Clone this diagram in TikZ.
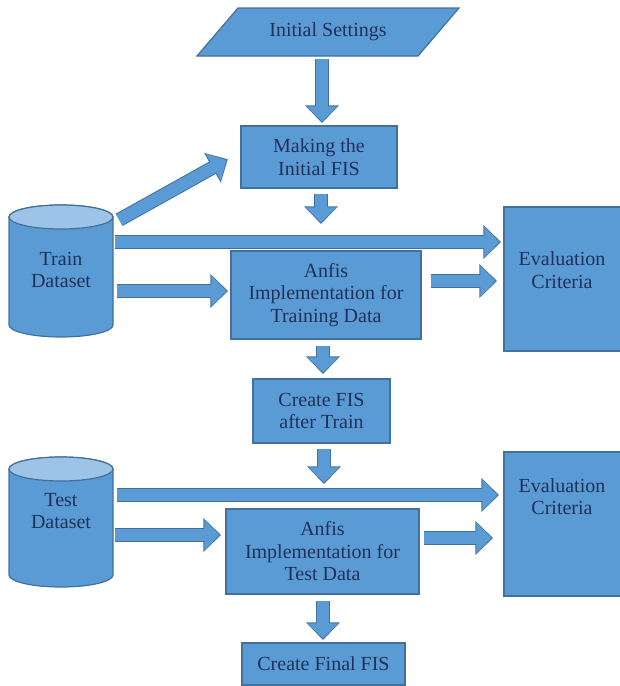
\documentclass[tikz,border=0pt]{standalone}
\usepackage{fontspec}
\setmainfont{Liberation Serif}
\usetikzlibrary{arrows.meta,calc}
\definecolor{bfill}{HTML}{5B9BD5}
\definecolor{bline}{HTML}{41719C}
\definecolor{ctop}{HTML}{9DC3E6}
\definecolor{tcol}{HTML}{1F3158}
\begin{document}
\begin{tikzpicture}[x=1pt,y=-1pt,
  txt/.style={text=tcol, align=center, inner sep=0pt, font=\fontsize{20}{22.5}\selectfont},
  box/.style={txt, draw=bline, fill=bfill, line width=1.2pt},
  shapefill/.style={draw=bline, fill=bfill, line width=1.2pt},
  toplid/.style={draw=bline, fill=ctop, line width=1.2pt},
  fat/.style={draw=bfill, line width=12pt, -{Triangle[length=15pt,width=30pt]},
    preaction={draw=bline, line width=14pt, -{Triangle[length=17.6pt,width=33pt]}, shorten >=-1.6pt}}
]
\useasboundingbox (0,0) rectangle (620,686);

% Initial settings (parallelogram)
\filldraw[shapefill] (238,8) -- (459,8) -- (418,56) -- (197,56) -- cycle;
\node[txt, minimum width=180pt, minimum height=48pt] (settings) at (328,32) {Initial Settings};

% process boxes
\node[box, minimum width=156pt, minimum height=62pt] (making) at (319,157) {Making the\\Initial FIS};
\node[box, minimum width=190pt, minimum height=88pt] (anfistr) at (326,295) {Anfis\\Implementation for\\Training Data};
\node[box, minimum width=137pt, minimum height=64pt] (createtr) at (321.5,411) {Create FIS\\after Train};
\node[box, minimum width=193pt, minimum height=85pt] (anfiste) at (322.5,551.5) {Anfis\\Implementation for\\Test Data};
\node[box, minimum width=163pt, minimum height=42pt] (final) at (323.5,664) {Create Final FIS};

% evaluation boxes
\node[shapefill, minimum width=118pt, minimum height=144pt, inner sep=0pt] (eval1) at (563,279) {};
\node[txt] (eval1t) at (562,270) {Evaluation\\Criteria};
\node[shapefill, minimum width=118pt, minimum height=144pt, inner sep=0pt] (eval2) at (563,524) {};
\node[txt] (eval2t) at (562,496.5) {Evaluation\\Criteria};

% cylinders
\filldraw[shapefill] (9,217) -- (9,325) arc[start angle=180,end angle=360,x radius=52pt,y radius=12pt]
  -- (113,217) arc[start angle=0,end angle=180,x radius=52pt,y radius=12pt] -- cycle;
\filldraw[toplid] (61,217) ellipse[x radius=52pt,y radius=12pt];
\node[txt, minimum width=104pt, minimum height=132pt] (train) at (61,271) {};
\node[txt] (traint) at (61,270) {Train\\Dataset};

\filldraw[shapefill] (9,469) -- (9,575) arc[start angle=180,end angle=360,x radius=52pt,y radius=12pt]
  -- (113,469) arc[start angle=0,end angle=180,x radius=52pt,y radius=12pt] -- cycle;
\filldraw[toplid] (61,469) ellipse[x radius=52pt,y radius=12pt];
\node[txt, minimum width=104pt, minimum height=130pt] (test) at (61,522) {};
\node[txt] (testt) at (61,511) {Test\\Dataset};

% block arrows
\draw[fat] ($(settings.south)+(-6,3)$) -- ($(making.north)+(3,-4)$);
\draw[fat] ($(making.south)+(2,5)$) -- ($(anfistr.north)+(-5,-28)$);
\draw[fat] ($(train.north east)+(6,15)$) -- ($(making.west)+(-14,3)$);
\draw[fat] ($(train.east)+(2,-29)$) -- ($(eval1.west)+(-4,-37)$);
\draw[fat] ($(train.east)+(4,20)$) -- ($(anfistr.west)+(-4,-4)$);
\draw[fat] ($(anfistr.east)+(9,-14)$) -- ($(eval1.west)+(-8,2)$);
\draw[fat] ($(anfistr.south)+(-3,6)$) -- ($(createtr.north)+(1.5,-6)$);
\draw[fat] ($(createtr.south)+(2.5,5)$) -- ($(anfiste.north)+(1.5,-26)$);
\draw[fat] ($(test.east)+(4,-27)$) -- ($(eval2.west)+(-6,-29)$);
\draw[fat] ($(test.east)+(2,13)$) -- ($(anfiste.west)+(-6,-16.5)$);
\draw[fat] ($(anfiste.east)+(4,-13.5)$) -- ($(eval2.west)+(-12,14)$);
\draw[fat] ($(anfiste.south)+(0.5,6)$) -- ($(final.north)+(-0.5,-4)$);
\end{tikzpicture}
\end{document}
